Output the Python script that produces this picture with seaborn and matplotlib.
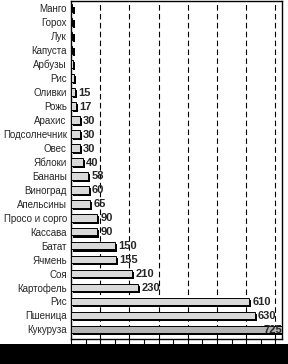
import matplotlib
matplotlib.use("Agg")
import matplotlib.pyplot as plt
import matplotlib.patheffects as pe
from matplotlib.patches import Rectangle
import seaborn as sns
import pandas as pd
import numpy as np

categories = ["Манго", "Горох", "Лук", "Капуста", "Арбузы", "Рис", "Оливки", "Рожь",
              "Арахис", "Подсолнечник", "Овес", "Яблоки", "Бананы", "Виноград",
              "Апельсины", "Просо и сорго", "Кассава", "Батат", "Ячмень", "Соя",
              "Картофель", "Рис", "Пшеница", "Кукуруза"]
values = [5, 5, 5, 5, 7, 10, 15, 17, 30, 30, 30, 40, 58, 60, 65, 90, 90, 150, 155, 210,
          230, 610, 630, 725]
labels = ["", "", "", "", "", "", "15", "17", "30", "30", "30", "40", "58", "60",
          "65", "90", "90", "150", "155", "210", "230", "610", "630", "725"]
ycats = [f"{i}" for i in range(len(categories))]

sns.set_theme(style="white")
plt.rcParams['font.family'] = ['Liberation Sans', 'DejaVu Sans']

fig = plt.figure(figsize=(2.88, 3.64), dpi=100)
ax = fig.add_axes([71/288, 1 - 339/364, (282-71)/288, (339-1)/364])

df = pd.DataFrame({"pos": ycats, "val": values})
colors = ["#d9d9d9"] * (len(values) - 1) + ["#b4b4b4"]
sns.barplot(data=df, x="val", y="pos", hue="pos", palette=colors, legend=False,
            orient="h", width=0.55, edgecolor="black", linewidth=0.7, ax=ax,
            saturation=1)
for p in ax.patches:
    p.set_path_effects([pe.SimplePatchShadow(offset=(1.5, -1.5), shadow_rgbFace="black", alpha=1),
                        pe.Normal()])
    p.set_zorder(3)

n = len(values)
ax.set_ylim(n - 1 + 0.69, -0.52)
ax.set_xlim(0, 723)
ax.set_yticks(range(n))
ax.set_yticklabels(categories, fontsize=7)
ax.set_ylabel("")
ax.set_xlabel("")
ax.set_xticks(np.arange(0, 723, 50))
ax.set_xticklabels([])
ax.tick_params(axis="x", direction="out", length=5, width=0.8, color="black", bottom=True)
ax.tick_params(axis="y", length=0, pad=3)
for x in range(100, 723, 100):
    ax.axvline(x, color="black", linestyle=(0, (5, 3)), linewidth=0.8, zorder=1)
for s in ax.spines.values():
    s.set_color("black")
    s.set_linewidth(1.0)

for i, (v, lab) in enumerate(zip(values, labels)):
    if not lab:
        continue
    if v > 700:
        ax.text(v - 2, i + 0.05, lab, ha="right", va="center", fontsize=8,
                fontweight="bold", zorder=5)
    else:
        ax.text(v + 11, i + 0.05, lab, ha="left", va="center", fontsize=8,
                fontweight="bold", zorder=5)

fig.patches.append(Rectangle((0, 0), 1, 20/364, transform=fig.transFigure,
                             facecolor="black", edgecolor="none", zorder=10))
fig.savefig("out.png", dpi=100)
